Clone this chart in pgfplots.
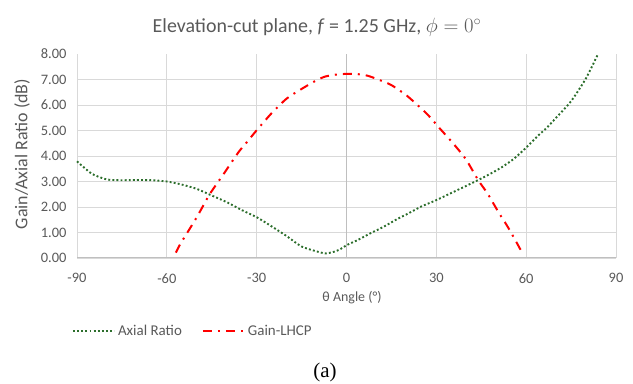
\documentclass[border=0pt]{standalone}
\usepackage{pgfplots}
\pgfplotsset{compat=1.18}
\usepackage{fontspec}
\setmainfont{Carlito}
\newfontfamily\serifcap{Liberation Serif}
\definecolor{txt}{RGB}{89,89,89}
\definecolor{gridc}{RGB}{217,217,217}
\definecolor{axc}{RGB}{191,191,191}
\definecolor{argreen}{RGB}{44,110,44}
\begin{document}
\begin{tikzpicture}
\path[use as bounding box] (0,0) rectangle (633bp,384bp);
\begin{axis}[
  at={(77bp,126bp)}, anchor=south west,
  scale only axis, width=539bp, height=204bp,
  xmin=-90, xmax=90, ymin=0, ymax=8,
  xtick={-90,-60,...,90},
  ytick={0,1,...,7},
  extra y ticks={8}, extra y tick style={grid=none},
  grid=major,
  major grid style={draw=gridc, line width=0.9bp},
  axis line style={draw=none},
  tick style={draw=none},
  clip=false,
  /pgf/number format/assume math mode=true,
  ticklabel style={font=\fontsize{14.5}{17}\selectfont, text=txt},
  yticklabel={\pgfmathprintnumber[fixed,fixed zerofill,precision=2]{\tick}},
  xticklabel style={yshift=-12bp},
  yticklabel style={xshift=-7bp},
  legend style={at={(axis description cs:-0.0093,-0.358)}, anchor=west,
    draw=none, fill=none, inner sep=0pt, legend columns=2,
    nodes={inner sep=0pt},
    font=\fontsize{15}{18}\selectfont, text=txt,
    /tikz/every odd column/.append style={column sep=3bp},
    /tikz/every even column/.append style={column sep=20bp}},
  legend cell align=left,
  legend image code/.code={\draw[#1] (0bp,0bp) -- (41bp,0bp);},
]
\draw[axc, line width=1bp] (axis cs:-90,0) -- (axis cs:90,0);
\draw[axc, line width=1bp] (axis cs:0,0) -- (axis cs:0,8);
\addplot[argreen, line width=1.9bp, dash pattern=on 1.9bp off 2.2bp, smooth, tension=0.4] coordinates {
(-90,3.79) (-85,3.30) (-80,3.08) (-75,3.05) (-70,3.06) (-65,3.05) (-60,3.00)
(-55,2.88) (-50,2.71) (-45,2.45) (-40,2.19) (-35,1.88) (-30,1.60) (-25,1.24)
(-20,0.86) (-15,0.45) (-10,0.26) (-7,0.18) (-4,0.25) (-2,0.35) (0,0.50)
(4,0.72) (8,0.97) (12,1.20) (17,1.53) (21,1.77) (25,2.02) (30,2.27)
(35,2.55) (40,2.83) (44,3.06) (48,3.30) (52,3.57) (56,3.90) (60,4.33) (64,4.80)
(67,5.12) (70,5.50) (75,6.15) (80,7.05) (84,8.0)
};
\addlegendentry{Axial Ratio}
\addplot[red, line width=2bp, dash pattern=on 9bp off 6bp on 2bp off 6bp, smooth, tension=0.4] coordinates {
(-57,0.21) (-55.5,0.55) (-52.6,1.10) (-50,1.6) (-48,2.02) (-45.6,2.52)
(-41,3.30) (-36,4.16) (-33,4.58) (-30,5.01) (-25,5.68) (-20,6.25)
(-15,6.63) (-10,6.97) (-7,7.12) (-3,7.20) (0,7.22) (3,7.22) (7,7.15)
(11,6.98) (15,6.78) (20,6.38) (25,5.86) (28,5.51) (31,5.10) (34,4.71)
(37,4.30) (40,3.85) (44,3.05) (47,2.55) (49,2.15) (51,1.75) (53.6,1.27)
(56,0.78) (58.6,0.22)
};
\addlegendentry{Gain-LHCP}
\end{axis}
\node[anchor=base, text=txt, font=\fontsize{20}{24}\selectfont] at (317bp,351bp)
  {Elevation-cut plane, \textit{f} = 1.25 GHz, $\phi = 0^{\circ}$};
\node[rotate=90, text=txt, font=\fontsize{18}{22}\selectfont, inner sep=0pt] at (22bp,230bp)
  {Gain/Axial Ratio (dB)};
\node[anchor=base, text=txt, font=\fontsize{14}{17}\selectfont] at (352bp,82bp)
  {θ Angle (°)};
\node[anchor=base, font=\serifcap\fontsize{21}{25}\selectfont] at (325bp,7bp) {(a)};
\end{tikzpicture}
\end{document}
